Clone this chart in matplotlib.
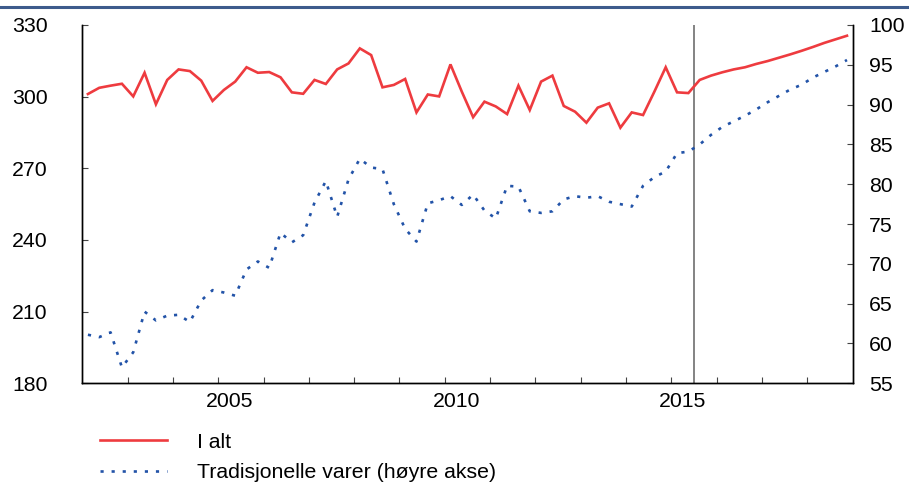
import numpy as np
import pandas as pd
import matplotlib
matplotlib.use("Agg")
import matplotlib.pyplot as plt
from matplotlib.lines import Line2D

plt.rcParams['font.family'] = ['Liberation Sans', 'DejaVu Sans']

# Quarterly periods 2002Q1 - 2018Q4
quarters = pd.period_range('2002Q1', '2018Q4', freq='Q')

i_alt = [301.1, 303.7, 304.6, 305.4, 300.1, 310.0, 296.8, 307.0,
         311.4, 310.7, 306.7, 298.2, 302.8, 306.3, 312.3, 310.0,
         310.3, 308.1, 301.8, 301.2, 307.0, 305.3, 311.4, 313.9,
         320.2, 317.4, 303.9, 304.9, 307.4, 293.4, 300.9, 300.1,
         313.5, 302.1, 291.4, 297.9, 295.9, 292.7, 304.6, 294.4,
         306.3, 308.8, 296.1, 293.7, 289.1, 295.4, 297.2, 287.0,
         293.4, 292.3, 302.1, 312.3, 301.8, 301.5, 307.0, 308.8,
         310.2, 311.4, 312.3, 313.7, 314.9, 316.3, 317.7, 319.2,
         320.8, 322.5, 324.0, 325.5]

tradisjonelle = [61.1, 60.8, 61.4, 57.0, 58.9, 64.0, 62.9, 63.5,
                 63.6, 62.7, 65.4, 66.7, 66.4, 66.0, 69.3, 70.3,
                 69.5, 73.9, 72.7, 73.6, 77.7, 80.4, 75.9, 80.6,
                 83.2, 82.1, 81.9, 77.5, 74.4, 72.8, 77.6, 78.0,
                 78.5, 77.4, 78.7, 76.7, 75.7, 79.8, 79.7, 76.6,
                 76.4, 76.6, 78.1, 78.5, 78.3, 78.5, 77.8, 77.5,
                 77.2, 79.8, 80.9, 81.6, 83.9, 84.1, 85.0, 86.2,
                 87.2, 87.9, 88.6, 89.4, 90.3, 91.1, 91.9, 92.5,
                 93.4, 94.1, 94.8, 95.6]

left_ticks = [180, 210, 240, 270, 300, 330]
right_ticks = [55, 60, 65, 70, 75, 80, 85, 90, 95, 100]
year_labels = [2005, 2010, 2015]
forecast_start = 2015.5

labels = ['I alt', 'Tradisjonelle varer (høyre akse)']

# mid-quarter decimal year
x = np.array([p.year + (p.quarter - 0.5) / 4 for p in quarters])

red = '#ee3b3f'
blue = '#2253a8'
fs = 15.3

fig = plt.figure(figsize=(9.09, 4.86), dpi=100)
ax = fig.add_axes([0.0905, 0.2113, 0.8475, 0.7373])
ax2 = ax.twinx()

ax.plot(x, i_alt, color=red, lw=1.9, solid_joinstyle='miter', zorder=3)
ax2.plot(x, tradisjonelle, color=blue, lw=1.9, linestyle=(0, (1.2, 3.0)), zorder=3)
ax.axvline(forecast_start, color='#6e6e6e', lw=1.2, zorder=1)

ax.set_xlim(2002, 2019)
ax.set_ylim(180, 330)
ax2.set_ylim(55, 100)

ax.set_yticks(left_ticks)
ax2.set_yticks(right_ticks)

# year boundary ticks (minor) and labels offset into the year (major)
ax.set_xticks(np.arange(2003, 2019), minor=True)
ax.set_xticks([y + 0.25 for y in year_labels])
ax.set_xticklabels([str(y) for y in year_labels])

for a in (ax, ax2):
    a.spines['top'].set_visible(False)
    for s in a.spines.values():
        s.set_linewidth(1.0)
        s.set_color('black')

ax.tick_params(axis='x', which='major', length=0, pad=6, labelsize=fs)
ax.tick_params(axis='x', which='minor', direction='in', length=4.5, width=0.8, color='#444444')
ax.tick_params(axis='y', direction='in', length=4.5, width=0.8, color='#444444', pad=25, labelsize=fs)
ax2.tick_params(axis='y', direction='in', length=4.5, width=0.8, color='#444444', pad=12, labelsize=fs)

# top decorative rule
fig.add_artist(Line2D([0, 1], [0.985, 0.985], transform=fig.transFigure,
                      color='#3d5b8c', lw=2.2))

handles = [Line2D([], [], color=red, lw=1.9),
           Line2D([], [], color=blue, lw=1.9, linestyle=(0, (1.2, 3.0)))]
fig.legend(handles, labels, loc='upper left', bbox_to_anchor=(0.11, 0.11),
           frameon=False, fontsize=fs, handlelength=3.15, handletextpad=1.4,
           labelspacing=0.55, borderaxespad=0, borderpad=0)

fig.savefig('out.png', dpi=100)
